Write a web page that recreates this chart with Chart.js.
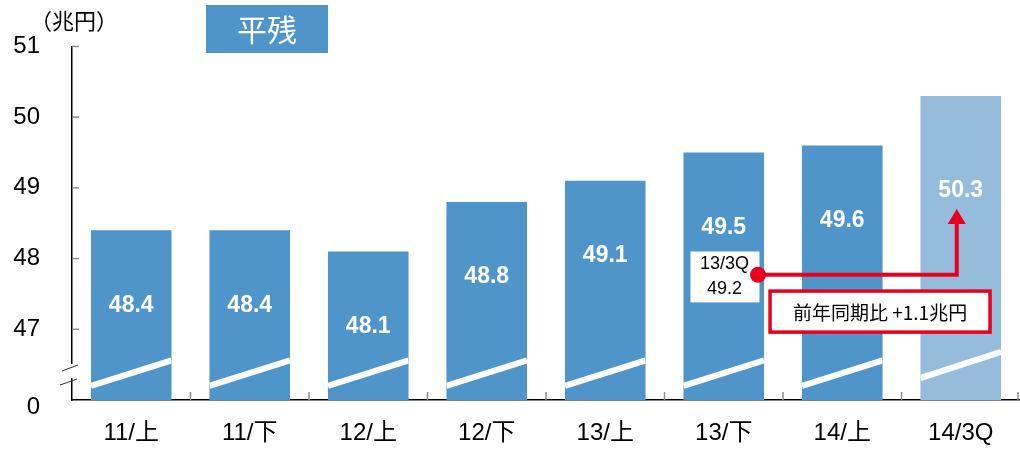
<!DOCTYPE html>
<html>
<head>
<meta charset="utf-8">
<script src="https://cdn.jsdelivr.net/npm/chart.js@4.4.0/dist/chart.umd.min.js"></script>
<style>
    html, body { margin: 0; padding: 0; background: #fff; }
    #wrap { width: 1020px; height: 452px; }
</style>
</head>
<body>
<div id="wrap"><canvas id="balanceChart" width="1020" height="452"></canvas></div>
<script>
const categories = ['11/上', '11/下', '12/上', '12/下', '13/上', '13/下', '14/上', '14/3Q'];
const balances = [48.4, 48.4, 48.1, 48.8, 49.1, 49.5, 49.6, 50.3];
const yTicks = [46, 47, 48, 49, 50, 51];
const yTickLabels = ['0', '47', '48', '49', '50', '51'];
const prevLabel = '13/3Q';
const prevValue = 49.2;
const diffText = '前年同期比 +1.1兆円';
const titleText = '平残';
const unitText = '（兆円）';

const BLUE = '#4f95c9';
const LIGHT = '#95bcda';
const RED = '#e8001e';
const FONT = '"Liberation Sans", Arial, "Noto Sans CJK JP", sans-serif';
const CJK = '"Noto Sans CJK JP", "Liberation Sans", sans-serif';

const decorations = {
    id: 'decorations',
    afterDatasetsDraw(chart) {
        const ctx = chart.ctx;
        const y = chart.scales.y;
        const area = chart.chartArea;
        const bars = chart.getDatasetMeta(0).data;
        const last = bars.length - 1;

        // white break stripes
        bars.forEach((bar, i) => {
            const w = bar.width;
            const from = i === last ? 46.31 : 46.2;
            const to = i === last ? 46.68 : 46.56;
            ctx.save();
            ctx.beginPath();
            ctx.rect(bar.x - w / 2, area.top, w, area.bottom - area.top);
            ctx.clip();
            ctx.strokeStyle = '#fff';
            ctx.lineWidth = 6;
            ctx.beginPath();
            ctx.moveTo(bar.x - w / 2, y.getPixelForValue(from));
            ctx.lineTo(bar.x + w / 2, y.getPixelForValue(to));
            ctx.stroke();
            ctx.restore();
        });

        // value labels
        ctx.save();
        ctx.fillStyle = '#fff';
        ctx.font = 'bold 23px ' + FONT;
        ctx.textAlign = 'center';
        ctx.textBaseline = 'middle';
        bars.forEach((bar, i) => {
            ctx.fillText(balances[i].toFixed(1), bar.x, bar.y + (i === last ? 95 : 75));
        });
        ctx.restore();

        // "0" label at the axis foot
        ctx.save();
        ctx.fillStyle = '#000';
        ctx.font = '24px ' + FONT;
        ctx.textAlign = 'right';
        ctx.textBaseline = 'middle';
        ctx.fillText(yTickLabels[0], 40, area.bottom + 7);
        ctx.restore();

        // inner ticks on y axis
        ctx.save();
        ctx.strokeStyle = '#8c8c8c';
        ctx.lineWidth = 1.5;
        yTicks.forEach(v => {
            if (v === 46) return;
            const py = y.getPixelForValue(v);
            ctx.beginPath();
            ctx.moveTo(area.left, py);
            ctx.lineTo(area.left + 7, py);
            ctx.stroke();
        });
        // category boundary ticks
        const step = (area.right - area.left) / categories.length;
        for (let i = 1; i <= categories.length; i++) {
            const px = Math.min(area.left + step * i, area.right - 2);
            ctx.beginPath();
            ctx.moveTo(px, area.bottom);
            ctx.lineTo(px, area.bottom - 8);
            ctx.stroke();
        }
        ctx.restore();

        // axis break marks
        ctx.save();
        ctx.fillStyle = '#fff';
        ctx.fillRect(area.left - 2, area.bottom - 36, 4, 14);
        ctx.strokeStyle = '#333';
        ctx.lineWidth = 1;
        ctx.beginPath();
        ctx.moveTo(area.left - 10, area.bottom - 29);
        ctx.lineTo(area.left + 6, area.bottom - 35);
        ctx.moveTo(area.left - 12, area.bottom - 15);
        ctx.lineTo(area.left + 5, area.bottom - 21);
        ctx.stroke();
        ctx.restore();

        // previous-year box in 13/下 bar
        const ref = bars[5];
        const target = bars[last];
        const boxL = ref.x - ref.width / 2 + 7;
        const boxT = y.getPixelForValue(48.1);
        const boxB = y.getPixelForValue(47.38);
        ctx.save();
        ctx.fillStyle = '#fff';
        ctx.fillRect(boxL, boxT, 69, boxB - boxT);
        ctx.fillStyle = '#000';
        ctx.font = '18px ' + FONT;
        ctx.textAlign = 'center';
        ctx.textBaseline = 'middle';
        ctx.fillText(prevLabel, boxL + 34, boxT + 13);
        ctx.fillText(prevValue.toFixed(1), boxL + 34, boxT + 38);

        // red connector and arrow
        const dotX = ref.x + ref.width / 2 - 6;
        const lineY = y.getPixelForValue(47.77);
        const arrowX = target.x - 4;
        const tipY = y.getPixelForValue(48.7);
        ctx.strokeStyle = RED;
        ctx.fillStyle = RED;
        ctx.lineWidth = 4;
        ctx.beginPath();
        ctx.moveTo(dotX, lineY);
        ctx.lineTo(arrowX, lineY);
        ctx.lineTo(arrowX, tipY + 14);
        ctx.stroke();
        ctx.beginPath();
        ctx.moveTo(arrowX, tipY);
        ctx.lineTo(arrowX - 9, tipY + 15);
        ctx.lineTo(arrowX + 9, tipY + 15);
        ctx.closePath();
        ctx.fill();
        ctx.beginPath();
        ctx.arc(dotX, lineY, 8, 0, Math.PI * 2);
        ctx.fill();

        // difference box
        const dT = y.getPixelForValue(47.54);
        const dB = y.getPixelForValue(46.96);
        const dL = ref.x + ref.width / 2 + 6;
        const dR = target.x + target.width / 2 - 11;
        ctx.fillStyle = '#fff';
        ctx.fillRect(dL, dT, dR - dL, dB - dT);
        ctx.lineWidth = 3.5;
        ctx.strokeRect(dL, dT, dR - dL, dB - dT);
        ctx.fillStyle = '#000';
        ctx.font = '19px ' + CJK;
        ctx.fillText(diffText, (dL + dR) / 2, (dT + dB) / 2 + 1);
        ctx.restore();

        // title box and unit
        ctx.save();
        ctx.fillStyle = BLUE;
        ctx.fillRect(206, 5, 122, 48);
        ctx.fillStyle = '#fff';
        ctx.font = '30px ' + CJK;
        ctx.textAlign = 'center';
        ctx.textBaseline = 'middle';
        ctx.fillText(titleText, 267, 30);
        ctx.fillStyle = '#000';
        ctx.font = '22px ' + CJK;
        ctx.textAlign = 'left';
        ctx.fillText(unitText, 30, 21);
        ctx.restore();
    }
};

new Chart(document.getElementById('balanceChart'), {
    type: 'bar',
    data: {
        labels: categories,
        datasets: [{
            data: balances,
            backgroundColor: balances.map((v, i) => i === balances.length - 1 ? LIGHT : BLUE),
            borderWidth: 0,
            barPercentage: 0.68,
            categoryPercentage: 1
        }]
    },
    options: {
        responsive: false,
        animation: false,
        layout: { padding: { top: 44, left: 0, right: 0, bottom: 0 } },
        plugins: {
            legend: { display: false },
            tooltip: { enabled: false }
        },
        scales: {
            x: {
                grid: { display: false, drawTicks: false },
                border: { display: true, color: '#000', width: 1.5 },
                ticks: { color: '#000', padding: 19, font: { size: 24, family: FONT } },
                afterFit(scale) { scale.height = 52; }
            },
            y: {
                min: 46,
                max: 51,
                grid: { display: false, drawTicks: false },
                border: { display: true, color: '#000', width: 1.5 },
                afterBuildTicks(scale) { scale.ticks = yTicks.map(v => ({ value: v })); },
                ticks: {
                    color: '#000',
                    padding: 32,
                    font: { size: 24, family: FONT },
                    callback: (v) => v === 46 ? '' : yTickLabels[yTicks.indexOf(v)]
                },
                afterFit(scale) { scale.width = 72; }
            }
        }
    },
    plugins: [decorations]
});
</script>
</body>
</html>
